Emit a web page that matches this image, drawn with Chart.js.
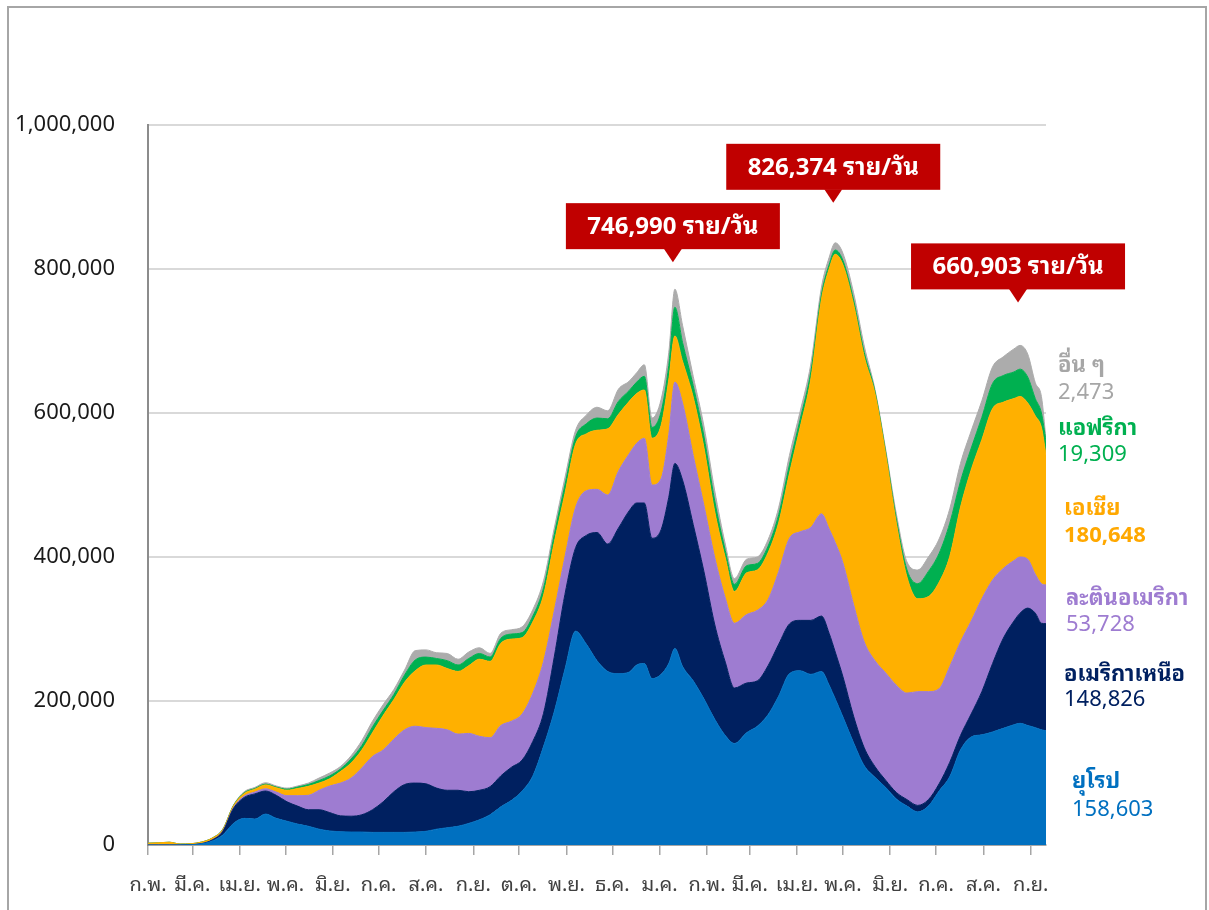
<!DOCTYPE html>
<html>
<head>
<meta charset="utf-8">
<title>ผู้ติดเชื้อรายใหม่ต่อวัน แยกตามภูมิภาค</title>
<script src="https://cdn.jsdelivr.net/npm/chart.js@4.4.1/dist/chart.umd.min.js"></script>
<style>
  html, body { margin: 0; padding: 0; background: #ffffff; }
  #wrap { position: relative; width: 1209px; height: 910px; overflow: hidden; }
  canvas { display: block; }
  #frame { position: absolute; left: 7px; top: 6px; width: 1196px; height: 930px;
           border: 2px solid #a6a6a6; pointer-events: none; }
</style>
</head>
<body>
<div id="wrap">
  <canvas id="chart" width="1209" height="910"></canvas>
  <div id="frame"></div>
</div>
<script>
// Day offsets counted from 1 Feb 2020
const days = [0,7,14,21,28,35,42,49,56,63,70,77,84,91,98,105,112,119,126,133,140,147,154,161,168,175,182,189,196,203,210,217,224,231,238,245,252,259,266,273,280,287,294,301,308,315,320,325,330,336,341,345,350,357,364,371,378,384,392,399,406,413,420,427,434,441,446,450,455,462,469,476,483,490,497,504,511,518,525,532,539,546,553,560,567,571,576,581,585,588];

// New cases per day by region
const europe = [0,0,0,100,400,1600,5500,14000,30000,37000,36000,43000,37000,33000,29000,26000,22000,19500,18500,18000,18000,17500,17500,17500,17500,18000,19000,22000,24000,26000,30000,35000,42000,53000,62000,75000,96000,137000,185000,244000,297000,279000,256000,241000,238000,240000,250000,252000,231000,237000,252000,273000,248000,228000,203000,175000,152000,141000,156000,165000,181000,207000,238000,242000,237000,241000,222000,203000,178000,142000,110000,94000,80000,64000,54000,46000,54000,75000,95000,132000,150000,153000,157000,162000,167000,169000,166000,163000,160000,158603];
const northAmerica = [0,0,0,0,100,300,1500,5000,21000,29000,35000,32000,32000,27000,25000,23000,27000,25500,22000,22000,24000,31500,42500,56500,66500,68000,66000,57000,52000,50000,44000,41000,39000,43000,46000,43000,48000,46000,76000,104000,116000,151000,178000,177000,202000,224000,225000,223000,195000,201000,231000,257000,259000,217000,177000,132000,102000,77000,69000,63000,68000,72000,69000,70000,75000,77000,72000,65000,56000,37000,25000,15000,10000,9000,9000,9000,9000,10000,20000,20000,32000,60000,95000,125000,144000,153000,163000,159000,148000,148826];
const latinAmerica = [0,0,0,0,0,50,100,500,1000,2000,2500,3000,4500,8500,14500,20000,27000,37000,45500,53000,65000,74000,72000,73000,76000,79000,78000,83000,84000,78000,81000,75000,68000,70000,64000,64000,67000,72000,64000,52000,56000,62000,60000,68000,79000,79000,83000,90000,74000,71000,87000,113000,107000,96000,92000,93000,89000,90000,95000,98000,92000,101000,119000,123000,129000,142000,145000,152000,158000,155000,147000,147000,149000,149000,148000,158000,150000,132000,133000,130000,129000,129000,116000,97000,84000,78000,68000,54000,55000,53728];
const asia = [2500,3000,3800,1200,1200,2000,2300,2000,2500,3500,4000,5500,6000,7500,10000,12500,10000,10000,16000,21000,25000,33000,48000,55000,66000,77000,87000,88000,85000,87000,94000,107000,106000,114000,114000,106000,99000,92000,95000,88000,88000,79000,82000,92000,79000,73000,69000,67000,65000,74000,76000,64000,58000,81000,80000,64000,56000,44000,58000,56000,65000,68000,90000,145000,206000,298000,361000,400374,414000,417000,396000,371000,304000,225000,161000,129000,132000,148000,153000,187000,210000,221000,238000,231000,225000,223000,217000,220000,217000,180648];
const africa = [0,0,0,0,0,50,100,300,500,1000,1000,1000,1000,1500,2000,2500,3500,4000,3500,5500,6000,8000,7000,7000,10000,15000,11000,9000,11000,9000,10000,8000,6000,7000,7000,7000,8000,10000,11000,12000,10000,14000,17000,14000,18000,15000,16000,19000,15000,19000,20000,39990,26000,16000,16000,15000,10000,10000,10000,9000,9000,11000,12000,11000,10000,7000,6000,6000,6000,6000,6000,3000,3000,6000,10000,21000,35000,40000,46000,36000,30000,31000,35000,37000,37000,37903,36000,24000,20000,19309];
const others = [0,0,100,100,100,200,300,500,500,1500,1500,2000,1500,1500,1500,2000,3500,4000,3500,4500,7000,8000,8000,7000,7000,13000,10000,8000,10000,8000,9000,8000,5000,7000,6000,8000,9000,10000,9000,10000,9000,12000,15000,11000,17000,13000,13000,16000,13000,17000,18000,25010,24000,13000,14000,14000,9000,8000,9000,9000,9000,10000,13000,11000,11000,10000,10000,10000,10000,10000,9000,3000,4000,7000,11000,19000,20000,20000,20000,25000,24000,23000,23000,26000,32000,33000,32000,22000,23000,2473];

// Month boundaries (day offsets) and their Thai abbreviations
const monthStartDays = [0,29,60,90,121,151,182,213,243,274,304,335,366,394,425,455,486,516,547,578];
const monthLabels = ['ก.พ.','มี.ค.','เม.ย.','พ.ค.','มิ.ย.','ก.ค.','ส.ค.','ก.ย.','ต.ค.','พ.ย.','ธ.ค.','ม.ค.','ก.พ.','มี.ค.','เม.ย.','พ.ค.','มิ.ย.','ก.ค.','ส.ค.','ก.ย.'];

// Y axis
const yTickStep = 200000;
const yMax = 1000000;

// Days of the three waves' peaks
const peakDays = [345, 450, 571];

const FONT = "'Noto Sans', 'Noto Sans Thai Looped', 'Noto Sans Thai', Tahoma, 'DejaVu Sans', sans-serif";

const series = [
  { name: 'ยุโรป',         data: europe,       color: '#0070c0', text: '#0070c0' },
  { name: 'อเมริกาเหนือ',   data: northAmerica, color: '#002060', text: '#002060' },
  { name: 'ละตินอเมริกา',   data: latinAmerica, color: '#9e7cd1', text: '#9e7cd1' },
  { name: 'เอเชีย',        data: asia,         color: '#ffb000', text: '#ffa800' },
  { name: 'แอฟริกา',       data: africa,       color: '#00b050', text: '#00b050' },
  { name: 'อื่น ๆ',        data: others,       color: '#acacac', text: '#a6a6a6' }
];

const datasets = series.map((s, i) => ({
  label: s.name,
  data: days.map((d, k) => ({ x: d, y: s.data[k] })),
  backgroundColor: s.color,
  borderColor: s.color,
  borderWidth: 1,
  pointRadius: 0,
  pointHoverRadius: 0,
  fill: i === 0 ? 'origin' : '-1',
  cubicInterpolationMode: 'monotone'
}));

// Text labels at the right end of each band
const endLabels = [
  { s: 5, x: 1058, yName: 366, yValue: 393, boldValue: false },
  { s: 4, x: 1058, yName: 429, yValue: 455, boldValue: false },
  { s: 3, x: 1064, yName: 509, yValue: 536, boldValue: true },
  { s: 2, x: 1066, yName: 599, yValue: 625, boldValue: false },
  { s: 1, x: 1064, yName: 675, yValue: 700, boldValue: false },
  { s: 0, x: 1072, yName: 782, yValue: 810, boldValue: false }
];

// Red callouts: pointer tip sits a few pixels above the top of the stack
const calloutLift = [27, 40, 43];

const fmt = v => v.toLocaleString('en-US');

const overlay = {
  id: 'overlay',
  afterDraw(chart) {
    const { ctx, scales: { x, y } } = chart;
    ctx.save();

    peakDays.forEach((day, n) => {
      const k = days.indexOf(day);
      const regional = europe[k] + northAmerica[k] + latinAmerica[k] + asia[k] + africa[k];
      const top = regional + others[k];
      const tipX = x.getPixelForValue(day) - 2;
      const tipY = y.getPixelForValue(top) - calloutLift[n];
      const w = 214, h = 46, ah = 13, aw = 9;
      const bx = tipX - w / 2, by = tipY - ah - h;
      ctx.fillStyle = '#c00000';
      ctx.fillRect(bx, by, w, h);
      ctx.beginPath();
      ctx.moveTo(tipX - aw, by + h - 0.5);
      ctx.lineTo(tipX + aw, by + h - 0.5);
      ctx.lineTo(tipX, tipY);
      ctx.closePath();
      ctx.fill();
      ctx.fillStyle = '#ffffff';
      ctx.font = 'bold 24px ' + FONT;
      ctx.textAlign = 'center';
      ctx.textBaseline = 'middle';
      ctx.fillText(fmt(regional) + ' ราย/วัน', tipX, by + h / 2 + 1);
    });

    ctx.textAlign = 'left';
    ctx.textBaseline = 'middle';
    endLabels.forEach(l => {
      const s = series[l.s];
      const last = s.data[s.data.length - 1];
      ctx.fillStyle = s.text;
      ctx.font = 'bold 22px ' + FONT;
      ctx.fillText(s.name, l.x, l.yName);
      ctx.font = (l.boldValue ? 'bold ' : '') + '22px ' + FONT;
      ctx.fillText(fmt(last), l.x, l.yValue);
    });

    ctx.restore();
  }
};

new Chart(document.getElementById('chart'), {
  type: 'line',
  data: { datasets },
  options: {
    responsive: false,
    animation: false,
    events: [],
    layout: { padding: { top: 125, right: 163, left: 0, bottom: 0 } },
    plugins: { legend: { display: false }, tooltip: { enabled: false } },
    scales: {
      x: {
        type: 'linear',
        min: 0,
        max: 588,
        afterBuildTicks: s => { s.ticks = monthStartDays.map(v => ({ value: v })); },
        afterFit: s => { s.height = 65; },
        ticks: {
          autoSkip: false,
          maxRotation: 0,
          minRotation: 0,
          padding: 18,
          color: '#404040',
          font: { family: FONT, size: 20 },
          callback: (v, i) => monthLabels[i]
        },
        grid: { drawOnChartArea: false, drawTicks: true, tickLength: 10, color: '#a6a6a6', lineWidth: 1.5 },
        border: { display: true, color: '#a6a6a6', width: 2 }
      },
      y: {
        stacked: true,
        min: 0,
        max: yMax,
        afterFit: s => { s.width = 148; },
        ticks: {
          stepSize: yTickStep,
          padding: 33,
          color: '#1a1a1a',
          font: { family: FONT, size: 22 },
          callback: v => fmt(v)
        },
        grid: { color: '#d9d9d9', lineWidth: 2, drawTicks: false },
        border: { display: true, color: '#8c8c8c', width: 2 }
      }
    }
  },
  plugins: [overlay]
});
</script>
</body>
</html>
